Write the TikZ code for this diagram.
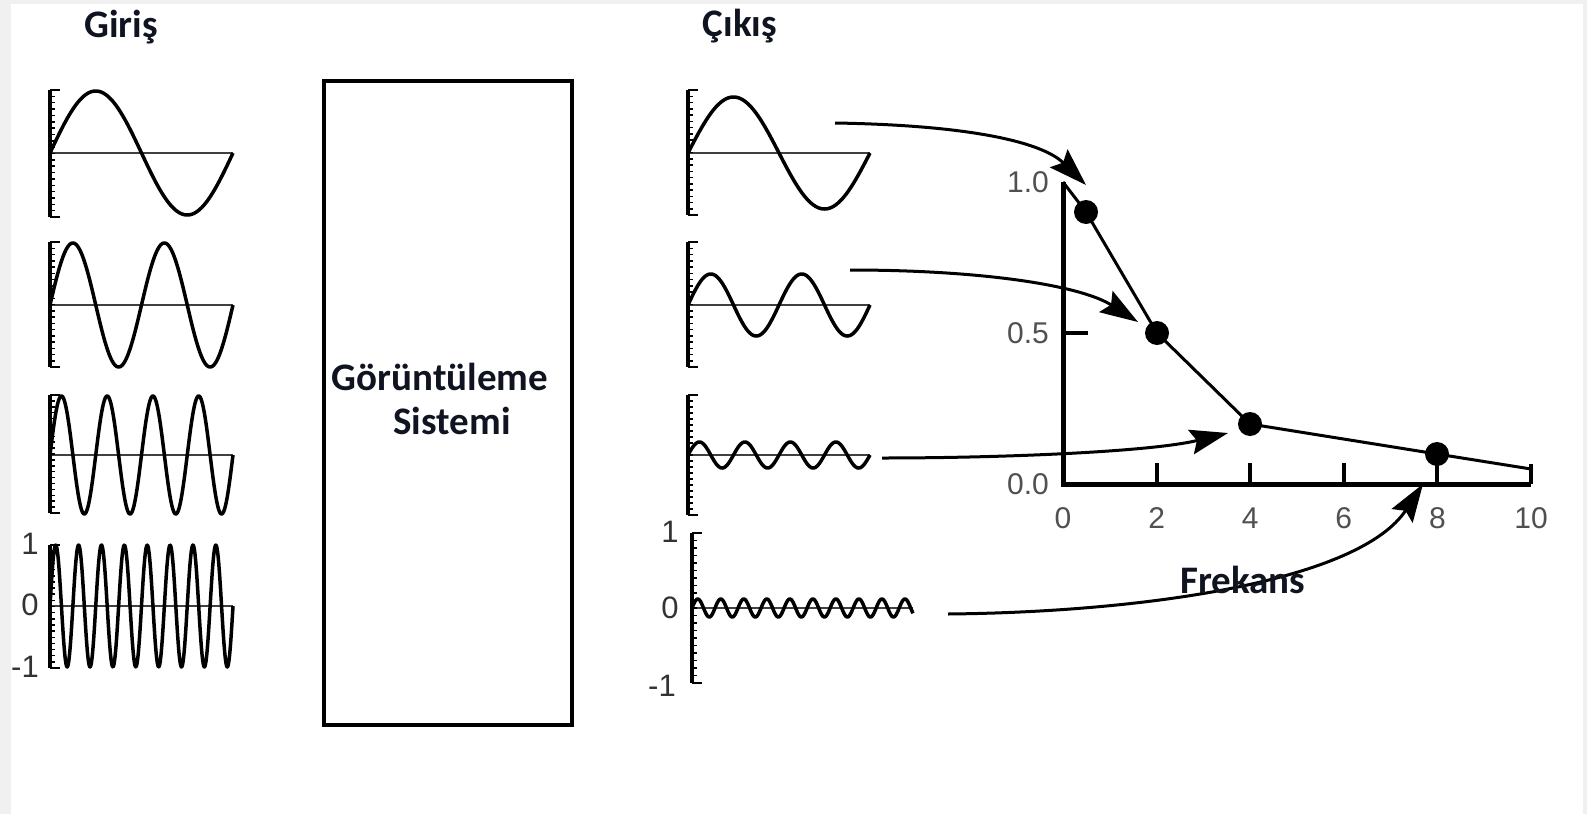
\documentclass[tikz,border=0pt]{standalone}
\usepackage{fontspec}
\setmainfont{Carlito}
\newfontfamily\arialf{Liberation Sans}
\usetikzlibrary{arrows.meta}
\definecolor{bggray}{HTML}{F0F0F0}
\definecolor{numgray}{HTML}{505050}
\definecolor{labgray}{HTML}{333333}
\definecolor{titlecol}{HTML}{0F1420}
\tikzset{
  wave/.style={line width=3.5pt, line join=round},
  midline/.style={line width=1.8pt, black!75},
  waxis/.style={line width=4.5pt},
  wtick/.style={line width=1.5pt},
  wcap/.style={line width=2pt},
  titletxt/.style={font=\fontsize{39}{44}\selectfont\bfseries, text=titlecol, inner sep=0pt},
  numlab/.style={font=\arialf\fontsize{30}{33}\selectfont, text=numgray, inner sep=0pt},
  wlab/.style={font=\arialf\fontsize{31}{33}\selectfont, text=labgray, inner sep=0pt},
  conn/.style={line width=3pt, -{Stealth[length=38pt,width=25pt,inset=6pt]}},
  dot/.style={circle, fill=black, minimum size=24pt, inner sep=0pt},
  gaxis/.style={line width=5pt},
  gtick/.style={line width=4pt},
  dataline/.style={line width=3pt},
}
\newcommand\waxisdraw[3]{%
  \draw[waxis] (#1,#2) -- (#1,#3);
  \draw[wcap] (#1,#2) -- ++(10,0) (#1,#3) -- ++(10,0);
  \foreach \k in {1,...,19} \draw[wtick] (#1,{#2+(#3-#2)*\k/20}) -- ++(5,0);
}
\newcommand\sinewave[5]{%
  \draw[midline] (#1,#3) -- ({#1+#2},#3);
  \draw[wave] plot[domain=0:#2, samples=320] ({#1+\x},{#3-#4*sin(\x/#2*#5*360)});
}
\begin{document}
\begin{tikzpicture}[x=1pt,y=-1pt]
\useasboundingbox (0,0) rectangle (1587,814);
\fill[bggray] (0,0) rectangle (1587,814);
\fill[white] (11,4) rectangle (1583,814);

% titles
\node[titletxt] (giris) at (121,27) {Giriş};
\node[titletxt] (cikis) at (740,26) {Çıkış};

% input waves
\sinewave{50}{183}{153}{62}{1}
\sinewave{50}{183}{305}{62}{2}
\sinewave{50}{183}{455}{59}{4}
\sinewave{50}{183}{606}{61}{8}
\waxisdraw{50}{90}{217}
\waxisdraw{50}{242}{367}
\waxisdraw{50}{395}{513}
\waxisdraw{50}{545}{668}
\node[wlab] (in1) at (30,544) {1};
\node[wlab] (in0) at (30,605) {0};
\node[wlab] (inm1) at (25,667) {-1};

% system box
\node[draw, line width=4pt, minimum width=248pt, minimum height=644pt, inner sep=0pt] (sys) at (448,403) {};
\node[titletxt] (sysa) at (440,377) {Görüntüleme};
\node[titletxt] (sysb) at (452,421) {Sistemi};

% output waves
\sinewave{688}{182}{153}{56}{1}
\sinewave{688}{182}{305}{31}{2}
\sinewave{688}{182}{455}{13}{4}
\sinewave{692}{221}{608}{9}{9.6}
\waxisdraw{688}{90}{215}
\waxisdraw{688}{242}{367}
\waxisdraw{688}{395}{515}
\waxisdraw{692}{533}{683}
\node[wlab] (out1) at (670,532) {1};
\node[wlab] (out0) at (670,608) {0};
\node[wlab] (outm1) at (662,686) {-1};

% graph axes
\draw[gaxis] (1063,182) -- (1063,484) -- (1531,484);
\draw[gtick] (1531,484) -- (1531,464);
\foreach \v in {2,4,6,8} \draw[gtick] ({1063+46.8*\v},484) -- ({1063+46.8*\v},463);
\draw[gtick] (1063,333) -- (1088,333);
\node[numlab, anchor=east] (l10) at (1049,182) {1.0};
\node[numlab, anchor=east] (l05) at (1049,333) {0.5};
\node[numlab, anchor=east] (l00) at (1049,484) {0.0};
\foreach \v in {0,2,4,6,8,10} \node[numlab] (xl\v) at ({1063+46.8*\v},518) {\v};

% data
\coordinate (d0) at (1063,182);
\coordinate (d5) at (1531,469);
\node[dot] (d1) at (1086,212) {};
\node[dot] (d2) at (1157,333) {};
\node[dot] (d3) at (1250,424) {};
\node[dot] (d4) at (1437,454) {};
\draw[dataline] (d0) -- (d1.center) -- (d2.center) -- (d3.center) -- (d4.center) -- (d5);

% connectors
\coordinate (s1) at (835,123);
\coordinate (t1) at (1086,185);
\coordinate (s2) at (850,270);
\coordinate (t2) at (1138,322);
\coordinate (s3) at (882,458);
\coordinate (t3) at (1228,433);
\coordinate (s4) at (948,614);
\coordinate (t4) at (1423,484);
\draw[conn] (s1) .. controls (960,125) and (1040,140) .. (t1);
\draw[conn] (s2) .. controls (980,270) and (1080,285) .. (t2);
\draw[conn] (s3) .. controls (1000,458) and (1150,452) .. (t3);
\draw[conn] (s4) .. controls (1150,612) and (1360,580) .. (t4);

\node[titletxt] (frek) at (1243,580) {Frekans};
\end{tikzpicture}
\end{document}
